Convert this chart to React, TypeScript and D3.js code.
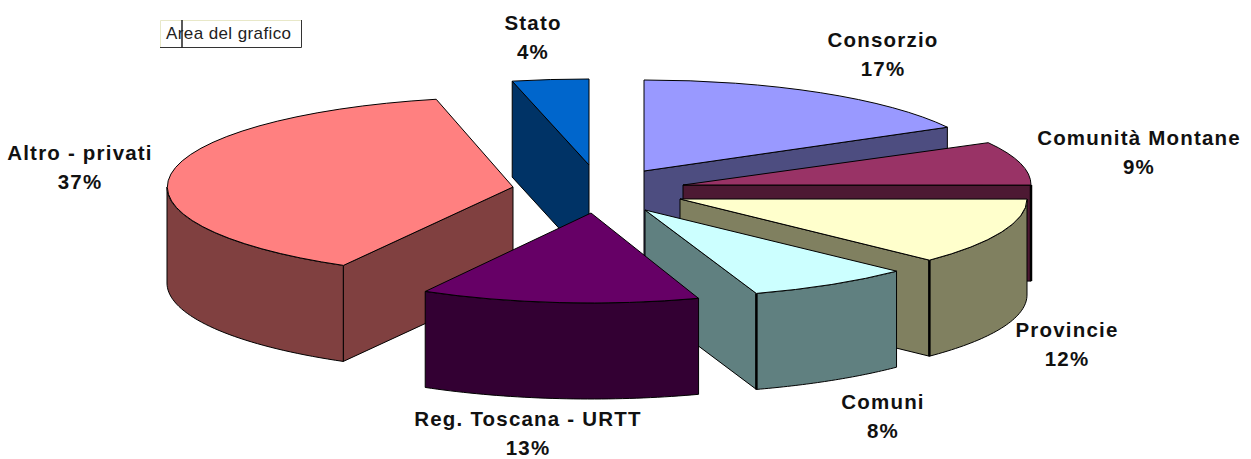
import React from 'react';
import * as d3 from 'd3';

// share of each slice, starting at 12 o'clock and going clockwise
const categories = ['Consorzio', 'Comunità Montane', 'Provincie', 'Comuni', 'Reg. Toscana - URTT', 'Altro - privati', 'Stato'];
const shares = [17, 8.6, 11.6, 7.6, 13.3, 37.4, 4.4];

const topColors = ['#9999ff', '#993366', '#ffffcc', '#ccffff', '#660066', '#ff8080', '#0066cc'];
const sideColors = ['#4d4d80', '#4d1933', '#808060', '#608080', '#330033', '#804040', '#003366'];

// how far each slice is pulled out of the pie centre
const explode = [[44, -19], [83, -5], [80, 9], [45, 20], [-9, 23], [-87, -3], [-11, -25]];
const radiiX = [346, 348, 347, 350, 338, 346, 346];
const radiiY = [91, 88, 88, 88, 90, 90, 86];
const labelPos = [[883, 47], [1139, 145], [1067, 337], [883, 409], [528, 426], [80, 160], [533, 30]];

// back to front
const drawOrder = [5, 6, 0, 1, 2, 3, 4];

const width = 1251;
const height = 459;
const pieCenter = { x: 600, y: 190 };
const depth = 96;

// the 3D view shifts some slice boundaries a little
const perspective = d3
    .scaleLinear()
    .domain([0, 61.2, 92.2, 134, 209.2, 343.8, 360].map(d => (d * Math.PI) / 180))
    .range([0, 61.2, 90, 134, 209.2, 346.9, 360].map(d => (d * Math.PI) / 180));

const line = d3.line();

const App: React.FC = () => {
    const arcs = d3
        .pie<number>()
        .sort(null)
        .value(d => d)(shares);

    const slices = arcs.map((a, i) => {
        const cx = pieCenter.x + explode[i][0];
        const cy = pieCenter.y + explode[i][1];
        const rx = radiiX[i];
        const ry = radiiY[i];
        const start = perspective(a.startAngle);
        const end = perspective(a.endAngle);
        const pt = (t: number): [number, number] => [cx + rx * Math.sin(t), cy - ry * Math.cos(t)];
        return { i, cx, cy, rx, ry, start, end, pt };
    });

    const topArc = d3.arc();

    return (
        <svg
            width={width}
            height={height}
            style={{ position: 'absolute', left: 0, top: 0, background: '#fff' }}
        >
            {drawOrder.map(k => {
                const s = slices[k];
                const faces: React.ReactNode[] = [];

                // cut faces that turn toward the viewer
                const edge = (t: number, key: string) => {
                    const p = s.pt(t);
                    const d = line([
                        [s.cx, s.cy],
                        p,
                        [p[0], p[1] + depth],
                        [s.cx, s.cy + depth],
                    ]);
                    faces.push(<path key={key} d={d + 'Z'} fill={sideColors[k]} stroke="#000" />);
                };
                if (Math.sin(s.start) < -0.01) edge(s.start, 'start');
                if (Math.sin(s.end) > 0.01) edge(s.end, 'end');

                // outer wall, front half only
                const from = Math.max(s.start, Math.PI / 2);
                const to = Math.min(s.end, (3 * Math.PI) / 2);
                if (to > from) {
                    const ts = d3.range(0, 41).map(n => from + ((to - from) * n) / 40);
                    const upper = ts.map(s.pt);
                    const lower = upper.map(p => [p[0], p[1] + depth] as [number, number]).reverse();
                    faces.push(
                        <path key="wall" d={line([...upper, ...lower]) + 'Z'} fill={sideColors[k]} stroke="#000" />,
                    );
                }
                // corner between the cut face and the wall
                if (Math.sin(s.end) > 0.01 && s.end >= Math.PI / 2) {
                    const p = s.pt(s.end);
                    faces.push(
                        <line key="ridge" x1={p[0]} y1={p[1]} x2={p[0]} y2={p[1] + depth} stroke="#000" strokeWidth={2.5} />,
                    );
                }

                const top = topArc({
                    innerRadius: 0,
                    outerRadius: 1,
                    startAngle: s.start,
                    endAngle: s.end,
                });

                return (
                    <g key={categories[k]}>
                        {faces}
                        <path
                            d={top!}
                            transform={`translate(${s.cx},${s.cy}) scale(${s.rx},${s.ry})`}
                            fill={topColors[k]}
                            stroke="#000"
                            strokeWidth={1}
                            vectorEffect="non-scaling-stroke"
                        />
                    </g>
                );
            })}

            {categories.map((c, i) => (
                <text
                    key={c}
                    textAnchor="middle"
                    fontFamily="'Liberation Sans', Arial, sans-serif"
                    fontWeight="bold"
                    fontSize={20.5}
                    letterSpacing={1.2}
                    fill="#111"
                >
                    <tspan x={labelPos[i][0]} y={labelPos[i][1]}>{c}</tspan>
                    <tspan x={labelPos[i][0]} y={labelPos[i][1] + 29}>{Math.round(shares[i])}%</tspan>
                </text>
            ))}

            {/* Excel tooltip left in the screenshot */}
            <g>
                <rect x={160.5} y={20.5} width={141} height={27} fill="#fff" />
                <path d="M160.5,47 V20.5 H301" fill="none" stroke="#e8e8c8" />
                <path d="M160,47.5 H301.5 V20" fill="none" stroke="#333" />
                <text x={166} y={39} fontFamily="'Liberation Sans', Arial, sans-serif" fontSize={17} letterSpacing={0.4} fill="#222">
                    Area del grafico
                </text>
                <line x1={182} x2={182} y1={20} y2={48} stroke="#222" strokeWidth={1.5} />
            </g>
        </svg>
    );
};

export default App;
